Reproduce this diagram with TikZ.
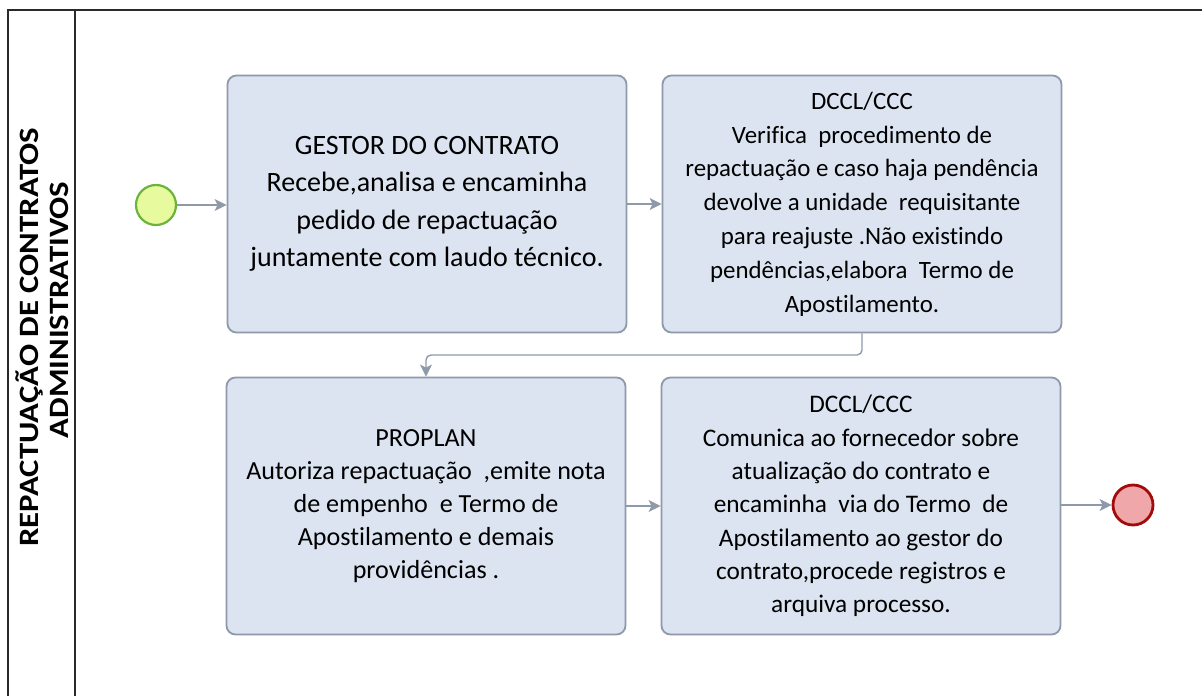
\documentclass[tikz,border=0pt]{standalone}
\usepackage{fontspec}
\setmainfont{Carlito}[Ligatures={NoCommon,NoRare,NoDiscretionary},Contextuals=NoAlternate]
\usetikzlibrary{arrows.meta,positioning}
\definecolor{boxfill}{HTML}{DBE4F0}
\definecolor{boxline}{HTML}{8E99AA}
\definecolor{flowcol}{HTML}{8E99AA}
\definecolor{startfill}{HTML}{E8FA9E}
\definecolor{startline}{HTML}{6BB33A}
\definecolor{endfill}{HTML}{EFA7AA}
\definecolor{endline}{HTML}{A30A0A}
\definecolor{lanecol}{HTML}{2A2A2A}

\begin{document}
\begin{tikzpicture}[
    x=1pt,y=-1pt,
    font=\fontsize{25}{34}\selectfont,
    task/.style={draw=boxline,fill=boxfill,line width=1.8pt,rounded corners=9pt,
      minimum width=399pt,minimum height=257pt,align=center,inner sep=0pt},
    event/.style={circle,minimum size=40pt,inner sep=0pt},
    startev/.style={event,draw=startline,fill=startfill,line width=2.2pt},
    endev/.style={event,draw=endline,fill=endfill,line width=2.8pt},
    flow/.style={-{Stealth[length=12pt,width=12pt,inset=3pt]},draw=flowcol,line width=1.4pt},
    lane/.style={draw=lanecol,line width=2pt},
    lanetext/.style={rotate=90,xscale=1.17,anchor=base,font=\fontsize{28}{33}\selectfont\bfseries},
  ]
    \useasboundingbox (0,0) rectangle (1202,696);

    \draw[lane] (8,696) -- (8,10) -- (1202,10);
    \draw[lane] (75,10) -- (75,696);
    \node[lanetext] (title) at (38,337) {REPACTUAÇÃO DE CONTRATOS};
    \node[lanetext] (subtitle) at (68,310) {ADMINISTRATIVOS};

    \node[startev] (start) at (156,205) {};
    \node[task,font=\fontsize{28}{37.5}\selectfont] (gestor) at (427,204)
      {GESTOR DO CONTRATO\\Recebe,analisa e encaminha\\pedido de repactuação\\juntamente com laudo técnico.};
    \node[task,font=\fontsize{24.9}{33.8}\selectfont] (verifica) at (862,204)
      {DCCL/CCC\\Verifica\ \ procedimento de\\repactuação e caso haja pendência\\devolve a unidade\ \ requisitante\\para reajuste .Não existindo\\pendências,elabora\ \ Termo de\\Apostilamento.};
    \node[task,font=\fontsize{26.1}{33}\selectfont] (proplan) at (426,506)
      {PROPLAN\\Autoriza repactuação\ \ ,emite nota\\de empenho\ \ e Termo de\\Apostilamento e demais\\providências .};
    \node[task,font=\fontsize{25.3}{33.3}\selectfont] (comunica) at (861,506)
      {DCCL/CCC\\Comunica ao fornecedor sobre\\atualização do contrato e\\encaminha\ \ via do Termo\ \ de\\Apostilamento ao gestor do\\contrato,procede registros e\\arquiva processo.};
    \node[endev] (fim) at (1133,505) {};

    \draw[flow] (start) -- (start -| gestor.west);
    \draw[flow] (gestor) -- (verifica);
    \draw[flow,rounded corners=5pt] (verifica.south) |- (644,355) -| (proplan.north);
    \draw[flow] (proplan) -- (comunica);
    \draw[flow] (comunica.east |- fim) -- (fim);
  \end{tikzpicture}
\end{document}
